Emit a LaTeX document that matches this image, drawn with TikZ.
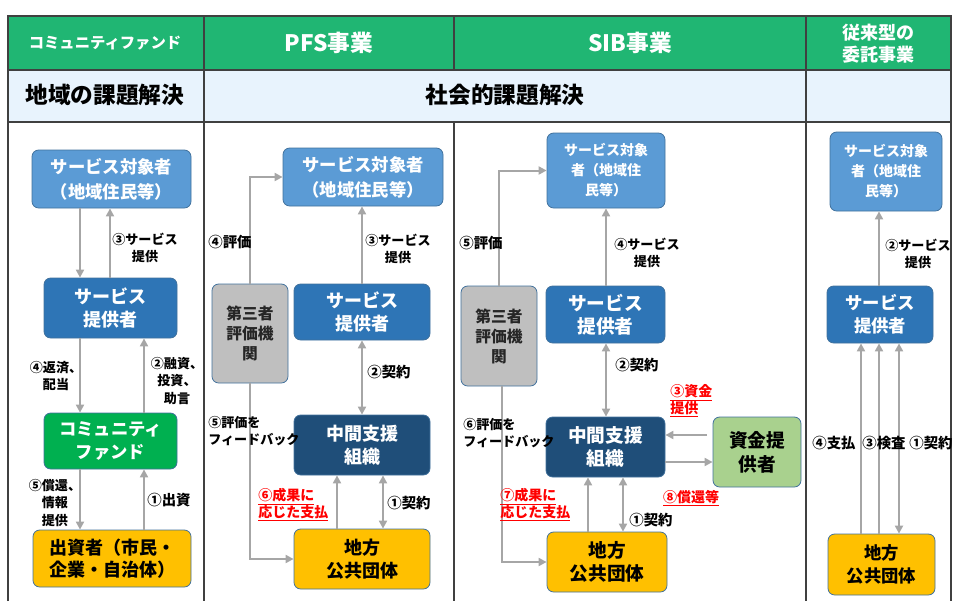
\documentclass[tikz,border=0pt]{standalone}
\usepackage{fontspec}
\setmainfont{Noto Sans CJK JP}
\usetikzlibrary{arrows.meta}
\definecolor{hdrgreen}{RGB}{32,182,115}
\definecolor{rowblue}{RGB}{232,243,253}
\definecolor{tgtblue}{RGB}{91,155,213}
\definecolor{provblue}{RGB}{46,117,182}
\definecolor{midnavy}{RGB}{31,78,121}
\definecolor{fundgreen}{RGB}{0,176,80}
\definecolor{govorange}{RGB}{255,192,0}
\definecolor{evalgrey}{RGB}{191,191,191}
\definecolor{fundlight}{RGB}{169,209,142}
\definecolor{bordc}{RGB}{65,113,156}
\definecolor{arrgrey}{RGB}{166,166,166}
\definecolor{rulec}{RGB}{64,64,64}
\definecolor{redlbl}{RGB}{255,0,0}
\begin{document}
\begin{tikzpicture}[x=0.75pt,y=-0.75pt,
  box/.style={rounded corners=5pt, draw=bordc, line width=0.6pt, align=center, inner sep=0pt, text=white, font=\bfseries\fontsize{13.5}{17}\selectfont},
  tgt/.style={box, fill=tgtblue, font=\bfseries\fontsize{13}{19}\selectfont},
  tgts/.style={box, fill=tgtblue, font=\bfseries\fontsize{10.5}{15}\selectfont},
  prov/.style={box, fill=provblue},
  mid/.style={box, fill=midnavy},
  cfund/.style={box, fill=fundgreen},
  gov/.style={box, fill=govorange, text=black},
  evalbox/.style={box, fill=evalgrey, text=black!85, font=\bfseries\fontsize{11.8}{15}\selectfont},
  lender/.style={box, fill=fundlight, text=black},
  arr/.style={draw=arrgrey, line width=1.5pt, -{Triangle[length=6pt,width=6pt]}},
  darr/.style={draw=arrgrey, line width=1.5pt, {Triangle[length=6pt,width=6pt]}-{Triangle[length=6pt,width=6pt]}},
  lbl/.style={font=\bfseries\fontsize{9.8}{12.8}\selectfont, align=center, inner sep=0pt, text=black},
  lblb/.style={lbl, font=\bfseries\fontsize{10.8}{13}\selectfont},
  rlbl/.style={font=\bfseries\fontsize{10.5}{12.5}\selectfont, align=left, inner sep=0pt, text=redlbl},
  hdr/.style={text=white, font=\bfseries\fontsize{17}{20}\selectfont, align=center, inner sep=0pt},
  hdrs/.style={text=white, font=\bfseries\fontsize{11.5}{14}\selectfont, align=center, inner sep=0pt},
  rowtxt/.style={text=black, font=\bfseries\fontsize{17}{20}\selectfont, inner sep=0pt}
]
\useasboundingbox (0,0) rectangle (953,601);
% table
\fill[hdrgreen] (8,16) rectangle (951,70);
\fill[rowblue] (8,70) rectangle (951,122);
\draw[rulec, line width=0.8pt] (8,601) -- (8,16) -- (951,16) -- (951,601);
\draw[rulec, line width=0.8pt] (204,16) -- (204,601);
\draw[rulec, line width=0.8pt] (806,16) -- (806,601);
\draw[rulec, line width=0.8pt] (454,16) -- (454,70);
\draw[rulec, line width=0.8pt] (454,122) -- (454,601);
\draw[rulec, line width=0.8pt] (8,122) -- (951,122);
\draw[rulec, line width=1.6pt] (8,70) -- (951,70);
% headers
\node[hdrs] (h1) at (105,43) {コミュニティファンド};
\node[hdr] (h2) at (329,43) {PFS事業};
\node[hdr] (h3) at (630,43) {SIB事業};
\node[hdr, font=\bfseries\fontsize{13.5}{16.5}\selectfont] (h4) at (878,44) {従来型の\\委託事業};
\node[rowtxt] (r1) at (105,95) {地域の課題解決};
\node[rowtxt] (r2) at (505,95) {社会的課題解決};

% ---- column 1: community fund
\node[tgt, minimum width=119.25pt, minimum height=43.5pt] (A1) at (111.5,179) {サービス対象者\\（地域住民等）};
\node[prov, minimum width=99.75pt, minimum height=45pt] (B1) at (110.5,308) {サービス\\提供者};
\node[cfund, font=\bfseries\fontsize{13}{17}\selectfont, minimum width=99.75pt, minimum height=42pt] (C1) at (110.5,441) {コミュニティ\\ファンド};
\node[gov, minimum width=118.5pt, minimum height=42.75pt] (D1) at (112,558.5) {出資者（市民・\\企業・自治体）};
\draw[arr] (80,0 |- A1.south) -- (80,0 |- B1.north);
\draw[arr] (110,0 |- B1.north) -- (110,0 |- A1.south);
\draw[arr] (80,0 |- B1.south) -- (80,0 |- C1.north);
\draw[arr] (144,0 |- C1.north) -- (144,0 |- B1.south);
\draw[arr] (80,0 |- C1.south) -- (80,0 |- D1.north);
\draw[arr] (144,0 |- D1.north) -- (144,0 |- C1.south);
\node[lbl] (l13) at (145,248) {③サービス\\提供};
\node[lbl] (l14) at (56,376) {④返済、\\配当};
\node[lbl] (l12) at (177,381) {②融資、\\投資、\\助言};
\node[lbl] (l15) at (55,503) {⑤償還、\\情報\\提供};
\node[lblb] (l11) at (169,500) {①出資};

% ---- column 2: PFS
\node[tgt, minimum width=120pt, minimum height=43.5pt] (A2) at (363,177) {サービス対象者\\（地域住民等）};
\node[evalbox, minimum width=57pt, minimum height=74.25pt] (E2) at (250,333.5) {第三者\\評価機\\関};
\node[prov, minimum width=102pt, minimum height=42pt] (B2) at (362,312) {サービス\\提供者};
\node[mid, minimum width=102pt, minimum height=45pt] (M2) at (362,445) {中間支援\\組織};
\node[gov, minimum width=102pt, minimum height=45pt] (L2) at (362,559) {地方\\公共団体};
\draw[arr] (E2.north) |- (A2.west);
\draw[arr] (362,0 |- B2.north) -- (362,0 |- A2.south);
\draw[darr] (362,0 |- B2.south) -- (362,0 |- M2.north);
\draw[arr] (E2.south) |- (L2.west);
\draw[arr] (337,0 |- L2.north) -- (337,0 |- M2.south);
\draw[darr] (383,0 |- M2.south) -- (383,0 |- L2.north);
\node[lblb] (l24) at (230,242) {④評価};
\node[lbl] (l23) at (398,249) {③サービス\\提供};
\node[lblb] (l22) at (389,372) {②契約};
\node[lbl, align=left, anchor=west] (l25) at (208,431) {⑤評価を\\フィードバック};
\node[rlbl, anchor=west] (l26) at (258,505) {\underline{⑥成果に}\\\underline{応じた支払}};
\node[lblb] (l21) at (409,503) {①契約};

% ---- column 3: SIB
\node[tgts, minimum width=88.5pt, minimum height=56.25pt] (A3) at (606,170.5) {サービス対象\\者（地域住\\民等）};
\node[evalbox, minimum width=57pt, minimum height=75pt] (E3) at (499,336) {第三者\\評価機\\関};
\node[prov, font=\bfseries\fontsize{14}{17}\selectfont, minimum width=89.25pt, minimum height=42.75pt] (B3) at (605.5,314.5) {サービス\\提供者};
\node[mid, font=\bfseries\fontsize{14}{17}\selectfont, minimum width=89.25pt, minimum height=45pt] (M3) at (605.5,447) {中間支援\\組織};
\node[lender, font=\bfseries\fontsize{14}{18}\selectfont, minimum width=66pt, minimum height=52.5pt] (F3) at (757,452) {資金提\\供者};
\node[gov, font=\bfseries\fontsize{14}{17}\selectfont, minimum width=90pt, minimum height=45pt] (L3) at (607,562) {地方\\公共団体};
\coordinate (f3a) at (707,435);
\draw[arr] (E3.north) |- (A3.west);
\draw[arr] (606,0 |- B3.north) -- (606,0 |- A3.south);
\draw[darr] (606,0 |- B3.south) -- (606,0 |- M3.north);
\draw[arr] (f3a) -- (M3.east |- f3a);
\draw[arr] (M3.east |- 0,462) -- (F3.west |- 0,462);
\draw[arr] (502,0 |- E3.south) |- (L3.west);
\draw[arr] (588,0 |- L3.north) -- (588,0 |- M3.south);
\draw[darr] (623,0 |- M3.south) -- (623,0 |- L3.north);
\node[lblb] (l35) at (481,243) {⑤評価};
\node[lbl] (l34) at (647,253) {④サービス\\提供};
\node[lblb] (l32) at (637,365) {②契約};
\node[rlbl, anchor=west] (l33) at (670,401) {\underline{③資金}\\\underline{提供}};
\node[rlbl] (l38) at (691,498) {\underline{⑧償還等}};
\node[lbl, align=left, anchor=west] (l36) at (463,433) {⑥評価を\\フィードバック};
\node[rlbl, anchor=west] (l37) at (500,505) {\underline{⑦成果に}\\\underline{応じた支払}};
\node[lblb] (l31) at (651,520) {①契約};

% ---- column 4: conventional
\node[tgts, minimum width=84pt, minimum height=59.25pt] (A4) at (886,171.5) {サービス対象\\者（地域住\\民等）};
\node[prov, font=\bfseries\fontsize{13}{17}\selectfont, minimum width=79.5pt, minimum height=42.75pt] (B4) at (880,314.5) {サービス\\提供者};
\node[gov, font=\bfseries\fontsize{13}{17}\selectfont, minimum width=80.25pt, minimum height=45.75pt] (L4) at (881.5,564.5) {地方\\公共団体};
\draw[arr] (879,0 |- B4.north) -- (879,0 |- A4.south);
\draw[arr] (861,0 |- L4.north) -- (861,0 |- B4.south);
\draw[arr] (879,0 |- L4.north) -- (879,0 |- B4.south);
\draw[darr] (899,0 |- B4.south) -- (899,0 |- L4.north);
\node[lbl] (l42) at (918,254) {②サービス\\提供};
\node[lblb] (l44) at (834,443) {④支払};
\node[lblb] (l43) at (884,443) {③検査};
\node[lblb] (l41) at (931,443) {①契約};
\end{tikzpicture}
\end{document}
